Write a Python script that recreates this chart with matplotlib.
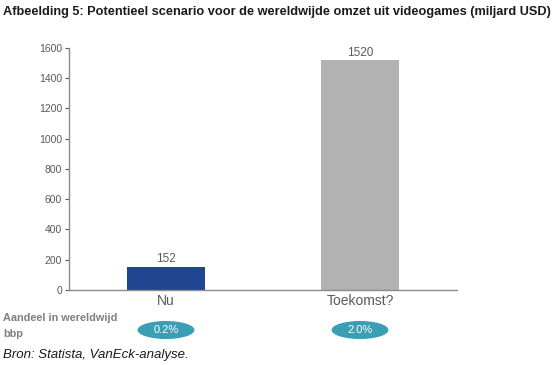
import matplotlib.pyplot as plt
from matplotlib.patches import Ellipse

# Gegevens
categorieen = ['Nu', 'Toekomst?']
omzet = [152, 1520]
aandeel_bbp = ['0.2%', '2.0%']
kleuren = ['#1f4591', '#b2b2b2']

plt.rcParams['font.family'] = ['Liberation Sans', 'DejaVu Sans']

fig = plt.figure(figsize=(5.58, 3.65), dpi=100)
ax = fig.add_axes([69/558, 1 - 290/365, 388/558, 242/365])

x = list(range(len(categorieen)))
ax.bar(x, omzet, width=0.4, color=kleuren)
for xi, v in zip(x, omzet):
    ax.text(xi, v + 10, str(v), ha='center', va='bottom', fontsize=8.5, color='#595959')

ax.set_xlim(-0.5, 1.5)
ax.set_ylim(0, 1600)
ax.set_yticks(range(0, 1601, 200))
ax.tick_params(axis='y', labelsize=7.5, colors='#595959', length=3, width=0.8, pad=2)
ax.set_xticks(x)
ax.set_xticklabels(categorieen, fontsize=10, color='#595959')
ax.tick_params(axis='x', length=0, pad=3)
for s in ['top', 'right']:
    ax.spines[s].set_visible(False)
for s in ['left', 'bottom']:
    ax.spines[s].set_color('#8c8c8c')
    ax.spines[s].set_linewidth(1)

# Titel
fig.text(3/558, 1 - 12/365, 'Afbeelding 5: Potentieel scenario voor de wereldwijde omzet uit videogames (miljard USD)',
         fontsize=9.2, fontweight='bold', va='center', ha='left', color='#1a1a1a')

# Aandeel in bbp
fig.text(3/558, 1 - 326/365, 'Aandeel in wereldwijd\nbbp', fontsize=7.8, fontweight='bold',
         color='#7f7f7f', va='center', ha='left', linespacing=1.7)
for xi, lab in zip(x, aandeel_bbp):
    px = 69 + (xi + 0.5) * 194
    e = Ellipse((px/558, 1 - 330/365), 57/558, 18/365, transform=fig.transFigure,
                color='#3a9fb5', ec='none')
    fig.patches.append(e)
    fig.text(px/558, 1 - 330/365, lab, fontsize=8, color='white', ha='center', va='center')

fig.text(3/558, 1 - 355/365, 'Bron: Statista, VanEck-analyse.', fontsize=9.5, style='italic',
         color='#1a1a1a', va='center', ha='left')

fig.savefig('out.png', dpi=100)
